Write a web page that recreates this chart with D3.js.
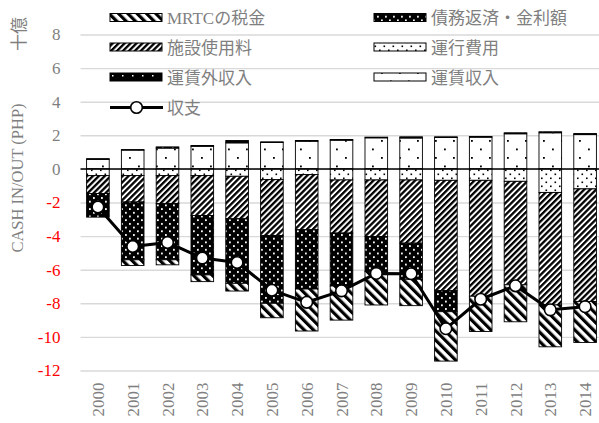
<!DOCTYPE html>
<html>
<head>
<meta charset="utf-8">
<script src="https://cdn.jsdelivr.net/npm/d3@7"></script>
<style>
  html, body { margin: 0; padding: 0; background: #fff; }
  svg { display: block; }
  text { font-family: "Liberation Serif", "Noto Sans CJK JP", serif; }
</style>
</head>
<body>
<svg id="chart" width="599" height="423"></svg>
<script>
// MRT cash flows, billions of PHP (十億)
const years = ["2000","2001","2002","2003","2004","2005","2006","2007","2008","2009","2010","2011","2012","2013","2014"];
const fareRevenue    = [0.57, 1.12, 1.24, 1.35, 1.55, 1.57, 1.65, 1.71, 1.85, 1.84, 1.87, 1.89, 2.09, 2.15, 2.04];
const nonFareRevenue = [0.04, 0.03, 0.07, 0.04, 0.14, 0.04, 0.04, 0.04, 0.04, 0.07, 0.04, 0.04, 0.06, 0.06, 0.07];
const operatingCost  = [-0.40, -0.40, -0.40, -0.40, -0.44, -0.64, -0.34, -0.66, -0.66, -0.66, -0.68, -0.68, -0.74, -1.40, -1.19];
const facilityFee    = [-1.07, -1.57, -1.67, -2.37, -2.53, -3.32, -3.28, -3.16, -3.36, -3.76, -6.57, -6.90, -6.16, -6.70, -6.70];
const debtService    = [-1.40, -3.44, -3.34, -3.54, -3.84, -4.04, -3.53, -3.15, -2.09, -2.15, -1.25, 0, 0, 0, 0];
const mrtcTax        = [0, -0.34, -0.30, -0.40, -0.46, -0.86, -2.50, -2.03, -1.99, -1.57, -2.94, -2.10, -2.20, -2.49, -2.44];
const balance        = [-2.27, -4.62, -4.38, -5.31, -5.57, -7.22, -7.94, -7.26, -6.22, -6.24, -9.51, -7.76, -6.96, -8.39, -8.20];
const yTicks = [8, 6, 4, 2, 0, -2, -4, -6, -8, -10, -12];

const seriesKeys = ["fare", "nonfare", "ops", "facility", "debt", "tax"];
const seriesLabel = {
  tax: "MRTCの税金", debt: "債務返済・金利額", facility: "施設使用料",
  ops: "運行費用", nonfare: "運賃外収入", fare: "運賃収入"
};
const rows = years.map((y, i) => ({
  year: y, fare: fareRevenue[i], nonfare: nonFareRevenue[i], ops: operatingCost[i],
  facility: facilityFee[i], debt: debtService[i], tax: mrtcTax[i]
}));

const svg = d3.select("#chart");
const textGrey = "#7f7f7f";
const gridGrey = "#d9d9d9";

// ---- fill patterns ----
const defs = svg.append("defs");
function pat(id, w, h, transform) {
  const p = defs.append("pattern").attr("id", id).attr("patternUnits", "userSpaceOnUse")
    .attr("width", w).attr("height", h);
  if (transform) p.attr("patternTransform", transform);
  return p;
}
// fare revenue: white, sparse black dots
let p = pat("p-fare", 18, 17);
p.append("rect").attr("width", 18).attr("height", 17).attr("fill", "#fff");
p.append("rect").attr("x", 3).attr("y", 4).attr("width", 1.8).attr("height", 1.8).attr("fill", "#000");
p.append("rect").attr("x", 12).attr("y", 12.5).attr("width", 1.8).attr("height", 1.8).attr("fill", "#000");
// non-fare revenue: black, sparse white dots
p = pat("p-nonfare", 10, 8);
p.append("rect").attr("width", 10).attr("height", 8).attr("fill", "#000");
p.append("rect").attr("x", 2).attr("y", 3).attr("width", 1.5).attr("height", 1.5).attr("fill", "#fff");
// operating cost: white, dense small dots
p = pat("p-ops", 9, 8);
p.append("rect").attr("width", 9).attr("height", 8).attr("fill", "#fff");
p.append("rect").attr("x", 1).attr("y", 1.5).attr("width", 1.6).attr("height", 1.6).attr("fill", "#000");
p.append("rect").attr("x", 5.5).attr("y", 5.5).attr("width", 1.6).attr("height", 1.6).attr("fill", "#000");
// facility fee: fine forward diagonal hatch
p = pat("p-facility", 4.2, 10, "rotate(45)");
p.append("rect").attr("width", 4.2).attr("height", 10).attr("fill", "#fff");
p.append("rect").attr("width", 2.3).attr("height", 10).attr("fill", "#000");
// debt service: black, white dots
p = pat("p-debt", 8, 7.4);
p.append("rect").attr("width", 8).attr("height", 7.4).attr("fill", "#000");
p.append("rect").attr("x", 1).attr("y", 1).attr("width", 1.8).attr("height", 1.8).attr("fill", "#fff");
p.append("rect").attr("x", 5).attr("y", 4.7).attr("width", 1.8).attr("height", 1.8).attr("fill", "#fff");
// MRTC tax: wide backward diagonal stripes
p = pat("p-tax", 6.6, 10, "rotate(-45)");
p.append("rect").attr("width", 6.6).attr("height", 10).attr("fill", "#fff");
p.append("rect").attr("width", 3.2).attr("height", 10).attr("fill", "#000");

// ---- scales ----
const x = d3.scaleBand().domain(years).range([80.5, 602.5]).paddingInner(0.35).paddingOuter(0.175);
const y = d3.scaleLinear().domain([-12, 8]).range([370.5, 34.5]);

// ---- grid + y axis ----
const yAxis = svg.append("g").attr("transform", "translate(80.5,0)")
  .call(d3.axisLeft(y).tickValues(yTicks).tickSize(-530).tickPadding(20).tickFormat(d => String(d)));
yAxis.select(".domain").remove();
yAxis.selectAll(".tick line").attr("stroke", gridGrey).attr("stroke-width", 1.4);
yAxis.selectAll(".tick text")
  .attr("font-size", 17).attr("font-family", "Liberation Serif, serif")
  .attr("fill", d => d < 0 ? "#ff0000" : textGrey);

// ---- stacked bars ----
const stacked = d3.stack().keys(seriesKeys).offset(d3.stackOffsetDiverging)(rows);
const barG = svg.append("g");
stacked.forEach(layer => {
  barG.append("g").selectAll("rect")
    .data(layer.filter(d => d[1] !== d[0]))
    .join("rect")
    .attr("x", d => x(d.data.year))
    .attr("width", x.bandwidth())
    .attr("y", d => y(Math.max(d[0], d[1])))
    .attr("height", d => Math.abs(y(d[0]) - y(d[1])))
    .attr("fill", `url(#p-${layer.key})`)
    .attr("stroke", "#000").attr("stroke-width", 0.9);
});

// zero line
svg.append("line").attr("x1", 80.5).attr("x2", 599).attr("y1", y(0)).attr("y2", y(0))
  .attr("stroke", "#000").attr("stroke-width", 1.5);

// ---- balance line ----
const cx = d => x(d) + x.bandwidth() / 2;
const line = d3.line().x((d, i) => cx(years[i])).y(d => y(d));
svg.append("path").datum(balance).attr("d", line)
  .attr("fill", "none").attr("stroke", "#000").attr("stroke-width", 3).attr("stroke-linejoin", "round");
svg.append("g").selectAll("circle").data(balance).join("circle")
  .attr("cx", (d, i) => cx(years[i])).attr("cy", d => y(d)).attr("r", 5.8)
  .attr("fill", "#fff").attr("stroke", "#000").attr("stroke-width", 1.6);

// ---- x axis labels ----
const xAxis = svg.append("g").attr("transform", `translate(0,${y(-12)})`)
  .call(d3.axisBottom(x).tickSize(0).tickPadding(0));
xAxis.select(".domain").remove();
xAxis.selectAll(".tick text")
  .attr("font-size", 17).attr("font-family", "Liberation Serif, serif").attr("fill", textGrey)
  .attr("text-anchor", "end").attr("dy", null).attr("y", 0)
  .attr("transform", "translate(6,12) rotate(-90)");

// ---- axis titles ----
svg.append("text").attr("transform", "translate(23,178) rotate(-90)")
  .attr("text-anchor", "middle").attr("font-size", 16.5).attr("fill", textGrey)
  .text("CASH IN/OUT (PHP)");
svg.append("text").attr("transform", "translate(25,34) rotate(-90)")
  .attr("text-anchor", "middle").attr("font-size", 17).attr("fill", textGrey)
  .attr("font-family", "Noto Sans CJK JP, sans-serif")
  .text("十億");

// ---- legend ----
const legendItems = [
  { key: "tax", col: 0, row: 0 }, { key: "debt", col: 1, row: 0 },
  { key: "facility", col: 0, row: 1 }, { key: "ops", col: 1, row: 1 },
  { key: "nonfare", col: 0, row: 2 }, { key: "fare", col: 1, row: 2 }
];
const colX = [110, 374], rowY = [17.5, 47, 77, 107.5];
const lg = svg.append("g");
legendItems.forEach(it => {
  const gx = colX[it.col], gy = rowY[it.row];
  lg.append("rect").attr("x", gx).attr("y", gy - 4).attr("width", 52).attr("height", 8)
    .attr("fill", `url(#p-${it.key})`).attr("stroke", "#000").attr("stroke-width", 1);
  lg.append("text").attr("x", gx + 57).attr("y", gy + 6.5).attr("font-size", 17).attr("fill", textGrey)
    .text(seriesLabel[it.key]);
});
lg.append("line").attr("x1", colX[0]).attr("x2", colX[0] + 53).attr("y1", rowY[3]).attr("y2", rowY[3])
  .attr("stroke", "#000").attr("stroke-width", 3);
lg.append("circle").attr("cx", colX[0] + 26.5).attr("cy", rowY[3]).attr("r", 5.8)
  .attr("fill", "#fff").attr("stroke", "#000").attr("stroke-width", 1.6);
lg.append("text").attr("x", colX[0] + 57).attr("y", rowY[3] + 6.5).attr("font-size", 17).attr("fill", textGrey)
  .text("収支");
</script>
</body>
</html>
